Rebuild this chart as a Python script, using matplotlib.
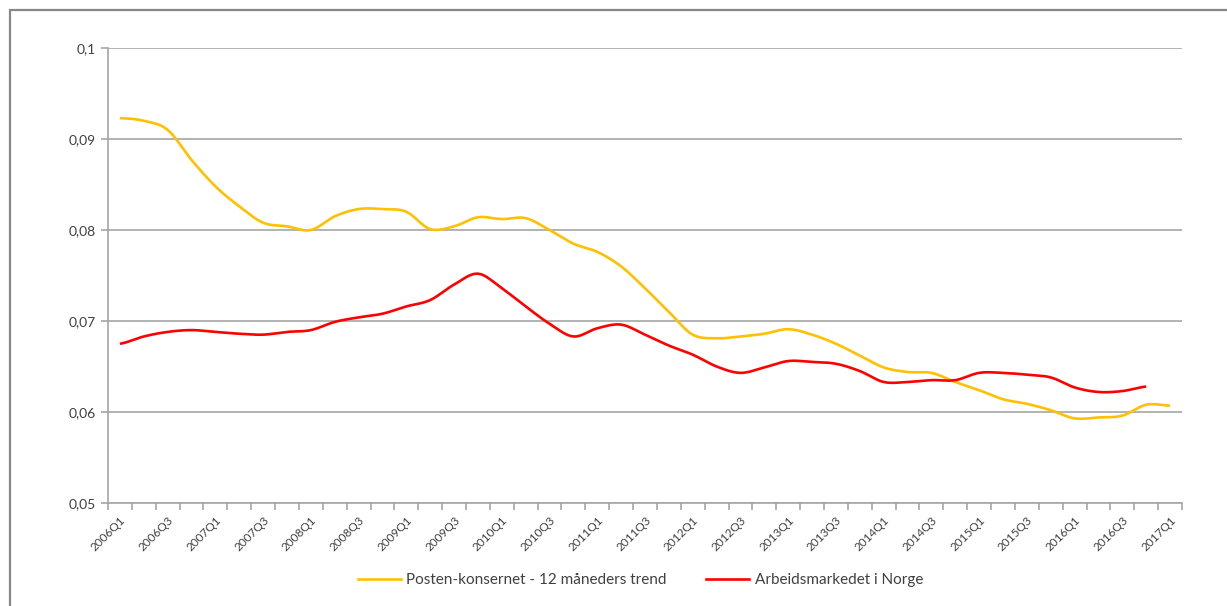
import numpy as np
import matplotlib
matplotlib.use("Agg")
import matplotlib.pyplot as plt
from matplotlib.patches import Rectangle
from matplotlib.lines import Line2D

plt.rcParams['font.family'] = ['Lato', 'DejaVu Sans']

## Data: quarters 2006Q1 .. 2017Q1
quarters = ["%dQ%d" % (y, q) for y in range(2006, 2018) for q in range(1, 5)][:45]

posten = [0.0923, 0.0920, 0.0910, 0.0877, 0.0848, 0.0826, 0.0808, 0.0804, 0.0800,
          0.0815, 0.0823, 0.0823, 0.0820, 0.0801, 0.0804, 0.0814, 0.0812, 0.0813,
          0.0800, 0.0785, 0.0776, 0.0760, 0.0736, 0.0710, 0.0685, 0.0681, 0.0683,
          0.0686, 0.0691, 0.0685, 0.0675, 0.0662, 0.0649, 0.0644, 0.0643, 0.0633,
          0.0624, 0.0614, 0.0609, 0.0602, 0.0593, 0.0594, 0.0596, 0.0608, 0.0607]

norge = [0.0675, 0.0683, 0.0688, 0.0690, 0.0688, 0.0686, 0.0685, 0.0688, 0.0690,
         0.0699, 0.0704, 0.0708, 0.0716, 0.0723, 0.0740, 0.0752, 0.0736, 0.0716,
         0.0697, 0.0683, 0.0692, 0.0696, 0.0685, 0.0673, 0.0663, 0.0650, 0.0643,
         0.0649, 0.0656, 0.0655, 0.0653, 0.0645, 0.0633, 0.0633, 0.0635, 0.0635,
         0.0643, 0.0643, 0.0641, 0.0638, 0.0627, 0.0622, 0.0623, 0.0628]

label_posten = "Posten-konsernet - 12 måneders trend"
label_norge = "Arbeidsmarkedet i Norge"


def smooth(y, n=20):
    # Catmull-Rom style smoothing like Excel's "smoothed line"
    y = np.asarray(y, dtype=float)
    x = np.arange(len(y), dtype=float)
    p = np.concatenate([[y[0]], y, [y[-1]]])
    xs, ys = [], []
    for i in range(len(y) - 1):
        p0, p1, p2, p3 = p[i], p[i + 1], p[i + 2], p[i + 3]
        t = np.linspace(0, 1, n, endpoint=False)
        yy = 0.5 * ((2 * p1) + (-p0 + p2) * t + (2 * p0 - 5 * p1 + 4 * p2 - p3) * t ** 2
                    + (-p0 + 3 * p1 - 3 * p2 + p3) * t ** 3)
        xs.append(x[i] + t)
        ys.append(yy)
    xs.append([x[-1]])
    ys.append([y[-1]])
    return np.concatenate(xs), np.concatenate(ys)


fig = plt.figure(figsize=(12.27, 6.06), dpi=100)
fig.patches.append(Rectangle((10 / 1227, -0.1), 1.2, 1 - 10 / 606 + 0.1, transform=fig.transFigure,
                             fill=False, edgecolor='#878787', lw=1.6))

ax = fig.add_axes([108 / 1227, 1 - 503 / 606, (1182 - 108) / 1227, (503 - 48) / 606])

gold = '#FFC000'
red = '#FF0000'
xs, ys = smooth(posten)
ax.plot(xs, ys, color=gold, lw=1.9, solid_capstyle='butt')
xs, ys = smooth(norge)
ax.plot(xs, ys, color=red, lw=1.9, solid_capstyle='butt')

ax.set_xlim(-0.5, len(quarters) - 0.5)
ax.set_ylim(0.05, 0.1)

yt = [0.05, 0.06, 0.07, 0.08, 0.09, 0.1]
ax.set_yticks(yt)
ax.set_yticklabels(["0,05", "0,06", "0,07", "0,08", "0,09", "0,1"], fontsize=10, color='#404040')
ax.yaxis.grid(True, color='#a6a6a6', lw=1.2)
ax.set_axisbelow(True)

ax.set_xticks(np.arange(-0.5, len(quarters), 1.0))
ax.set_xticklabels([])
ax.set_xticks(np.arange(0, len(quarters), 2), minor=True)
ax.set_xticklabels(quarters[::2], minor=True, rotation=45, ha='right', va='top',
                   rotation_mode='anchor', fontsize=8.5, color='#404040')
ax.tick_params(axis='x', which='minor', length=0, pad=8)
ax.tick_params(axis='x', which='major', length=5, color='#a6a6a6', width=1.2)
ax.tick_params(axis='y', length=5, color='#a6a6a6', width=1.2, pad=4)

for s in ['top', 'right']:
    ax.spines[s].set_visible(False)
for s in ['left', 'bottom']:
    ax.spines[s].set_color('#a6a6a6')
    ax.spines[s].set_linewidth(1.2)

handles = [Line2D([], [], color=gold, lw=1.9), Line2D([], [], color=red, lw=1.9)]
fig.legend(handles, [label_posten, label_norge], loc='center', bbox_to_anchor=(0.522, 1 - 580 / 606),
           ncol=2, frameon=False, fontsize=11, handlelength=2.8, handletextpad=0.35,
           columnspacing=2.6, labelcolor='#404040')

fig.savefig("out.png", dpi=100)
